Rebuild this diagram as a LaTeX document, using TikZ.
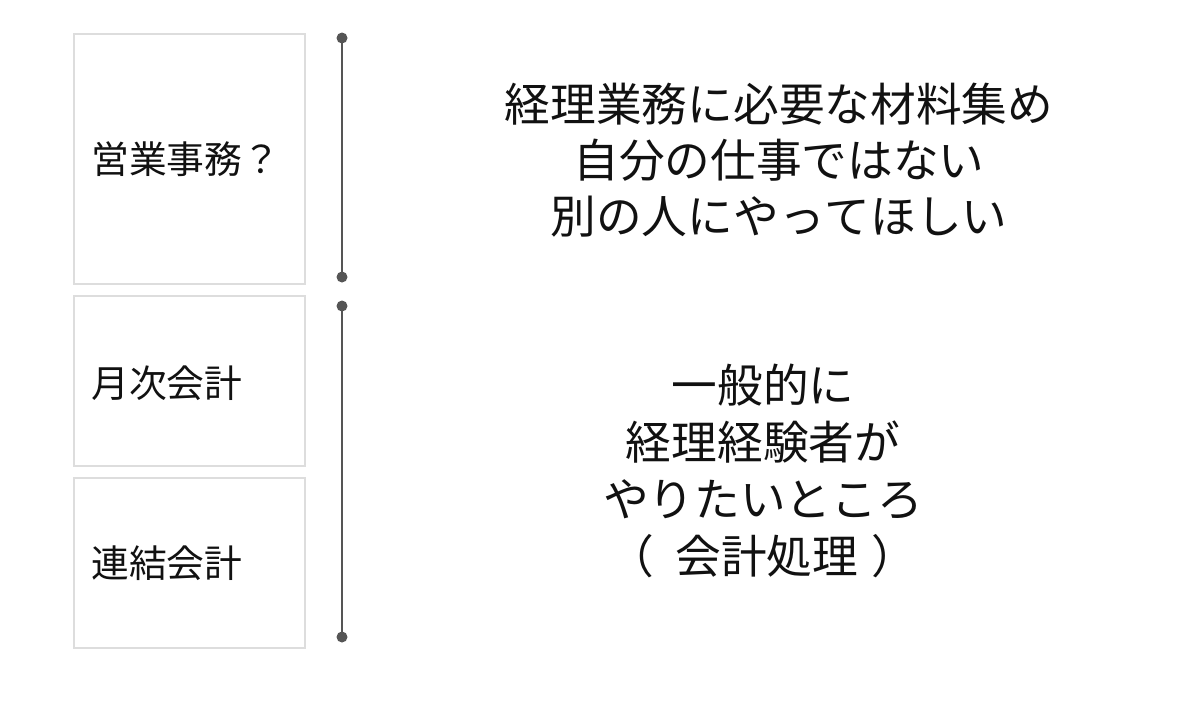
\documentclass[tikz,border=0pt]{standalone}
\usepackage{fontspec}
\setmainfont[Kerning=Off]{Noto Sans CJK JP}
\usepackage{tikz}
\usetikzlibrary{positioning}
\definecolor{boxgray}{HTML}{DDDDDD}
\definecolor{linegray}{HTML}{555555}
\definecolor{textblack}{HTML}{111111}
\tikzset{
  every picture/.style = {
    x = 0.02cm,
    y = -0.02cm,
  }
  ,
  box/.style = {
    rectangle,
    draw = boxgray,
    line width = 1.2pt,
    anchor = north west,
    inner sep = 0pt,
    minimum width = 4.62cm
  }
  , % labels inside the boxes
  label-box/.style = {
    anchor = west,
    inner sep = 0pt,
    text = textblack,
    font = \fontsize{21.5pt}{25pt}\selectfont
  }
  , % bracket lines
  bracket/.style = {
    draw = linegray,
    line width = 1.1pt
  }
  ,
  dot/.style = {
    fill = linegray
  }
  , % comments to the right
  label-note/.style = {
    align = center,
    inner sep = 0pt,
    text = textblack,
    font = \fontsize{26pt}{32pt}\selectfont
  }
}
\begin{document}
\begin{tikzpicture}
\useasboundingbox (0,0) rectangle (1200,721);
\fill[white] (0,0) rectangle (1200,721);
\node[box, minimum height = 5.0cm] at (73,33) (eigyo) {};
\node[box, minimum height = 3.4cm] at (73,295) (getsuji) {};
\node[box, minimum height = 3.4cm] at (73,477) (renketsu) {};
\node[label-box, right = 0.36cm of eigyo.west] (eigyo-l) {営業事務？};
\node[label-box, right = 0.36cm of getsuji.west, yshift = -0.04cm] (getsuji-l) {月次会計};
\node[label-box, right = 0.36cm of renketsu.west] (renketsu-l) {連結会計};
\coordinate (a1) at (342,38);
\coordinate (a2) at (342,277);
\coordinate (b1) at (342,306);
\coordinate (b2) at (342,637);
\draw[bracket] (a1) -- (a2);
\draw[bracket] (b1) -- (b2);
\foreach \p in {a1,a2,b1,b2}
  \fill[dot] (\p) circle (0.11cm);
\node[label-note] at (779,160) (note-a) {経理業務に必要な材料集め\\自分の仕事ではない\\別の人にやってほしい};
\node[label-note, font = \fontsize{26pt}{32.4pt}\selectfont] at (763,471) (note-b) {一般的に\\経理経験者が\\やりたいところ\\（\hspace{0.42cm}会計処理\hspace{0.26cm}）};
\end{tikzpicture}
\end{document}
